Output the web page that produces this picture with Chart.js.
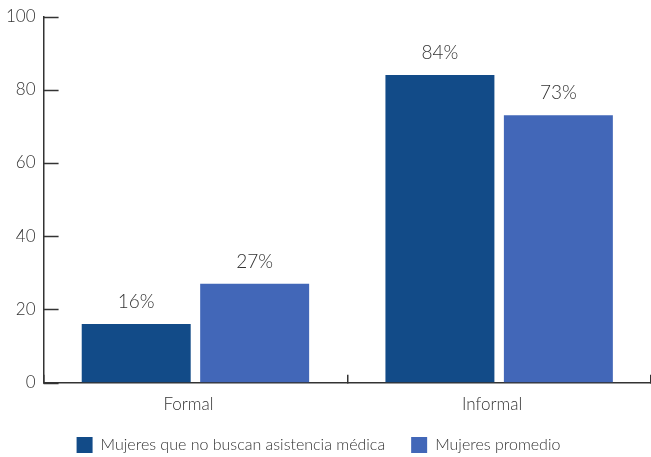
<!DOCTYPE html>
<html>
<head>
<meta charset="utf-8">
<script src="https://cdn.jsdelivr.net/npm/chart.js@4/dist/chart.umd.min.js"></script>
<style>
  html, body { margin: 0; padding: 0; background: #fff; }
  #wrap { width: 651px; height: 457px; }
</style>
</head>
<body>
<div id="wrap"><canvas id="chart"></canvas></div>
<script>
var categories = ['Formal', 'Informal'];
var noBuscan = [16, 84];
var promedio = [27, 73];
var yTicks = [0, 20, 40, 60, 80, 100];

var darkBlue = '#124b88';
var midBlue = '#4267b8';
var textColor = '#333333';
var fontFamily = 'Lato, "Open Sans", sans-serif';

// percent labels above each bar
var barLabels = {
  id: 'barLabels',
  afterDatasetsDraw: function (chart) {
    var ctx = chart.ctx;
    ctx.save();
    ctx.font = '300 19px ' + fontFamily;
    ctx.fillStyle = textColor;
    ctx.textAlign = 'center';
    ctx.textBaseline = 'middle';
    chart.data.datasets.forEach(function (ds, i) {
      chart.getDatasetMeta(i).data.forEach(function (bar, j) {
        ctx.fillText(ds.data[j] + '%', bar.x, bar.y - 22);
      });
    });
    ctx.restore();
  }
};

// y tick marks pointing into the plot
var innerTicks = {
  id: 'innerTicks',
  afterDraw: function (chart) {
    var ctx = chart.ctx, y = chart.scales.y, left = chart.chartArea.left;
    ctx.save();
    ctx.strokeStyle = textColor;
    ctx.lineWidth = 1.5;
    y.ticks.forEach(function (t) {
      var py = Math.round(y.getPixelForValue(t.value)) + 0.5;
      ctx.beginPath();
      ctx.moveTo(left, py);
      ctx.lineTo(left + 15, py);
      ctx.stroke();
    });
    ctx.restore();
  }
};

new Chart(document.getElementById('chart').getContext('2d'), {
  type: 'bar',
  data: {
    labels: categories,
    datasets: [{
      label: 'Mujeres que no buscan asistencia médica',
      data: noBuscan,
      backgroundColor: darkBlue
    }, {
      label: 'Mujeres promedio',
      data: promedio,
      backgroundColor: midBlue
    }]
  },
  options: {
    responsive: true,
    maintainAspectRatio: false,
    animation: false,
    categoryPercentage: 0.78,
    barPercentage: 0.92,
    layout: { padding: { top: 0, left: -16, right: -2, bottom: -6 } },
    plugins: {
      tooltip: { enabled: false },
      legend: {
        position: 'bottom',
        labels: {
          boxWidth: 16,
          boxHeight: 16,
          padding: 26,
          color: textColor,
          font: { family: fontFamily, size: 16, weight: '300' }
        }
      }
    },
    scales: {
      x: {
        afterFit: function (axis) { axis.height -= 23; },
        grid: { drawOnChartArea: false, tickLength: -8, color: textColor, lineWidth: 1.5 },
        border: { color: textColor, width: 1.5 },
        ticks: {
          padding: 22,
          labelOffset: -7,
          color: textColor,
          font: { family: fontFamily, size: 17, weight: '300', lineHeight: 0.9 }
        }
      },
      y: {
        min: 0,
        max: 100,
        afterBuildTicks: function (axis) {
          axis.ticks = yTicks.map(function (v) { return { value: v }; });
        },
        afterFit: function (axis) { axis.width += 14; },
        grid: { drawOnChartArea: false, drawTicks: false },
        border: { color: textColor, width: 1.5 },
        ticks: {
          padding: 8,
          color: textColor,
          font: { family: fontFamily, size: 17, weight: '300', lineHeight: 1 }
        }
      }
    }
  },
  plugins: [barLabels, innerTicks]
});
</script>
</body>
</html>
